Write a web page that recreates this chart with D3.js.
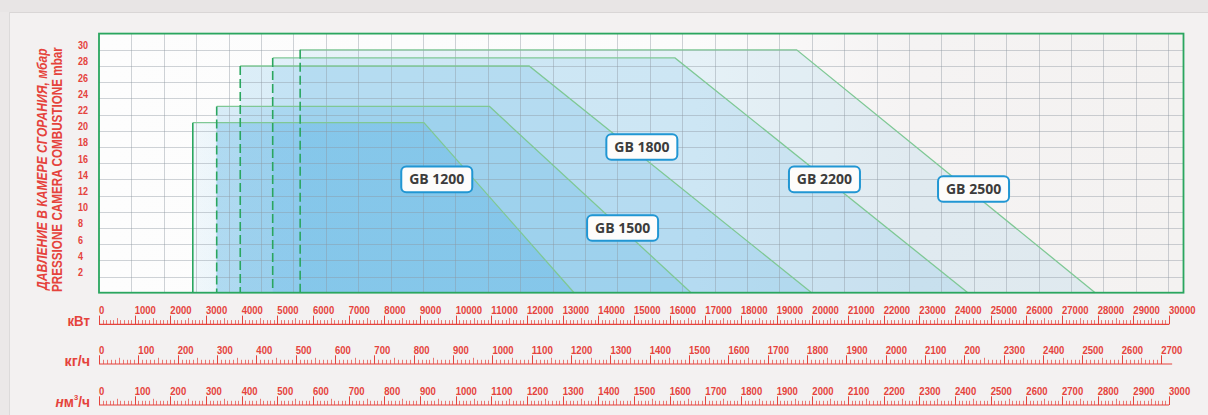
<!DOCTYPE html>
<html><head><meta charset="utf-8">
<script src="https://cdn.jsdelivr.net/npm/d3@7/dist/d3.min.js"></script>
<style>
html,body{margin:0;padding:0;background:#f3f1f1;}
svg{display:block;}
</style></head>
<body><svg id="c" width="1208" height="415"></svg>
<script>
// ---------- data ----------
const series        = ["GB 1200", "GB 1500", "GB 1800", "GB 2200", "GB 2500"];
const minPowerKW    = [2630, 3300, 3960, 4870, 5640];
const kneePowerKW   = [9110, 10950, 12060, 16150, 19560];
const maxPowerKW    = [13320, 16600, 19980, 24360, 27930];
const maxPressure   = [21, 23, 28, 29, 30];
const dashedLeft    = [false, true, true, true, true];
const labelPowerKW  = [9470, 14680, 15220, 20340, 24520];
const labelPressure = [14, 8, 18, 14, 12.8];
const fillAlpha     = [0.28, 0.2, 0.18, 0.15, 0.12];

const pressureTicks = [2, 4, 6, 8, 10, 12, 14, 16, 18, 20, 22, 24, 26, 28, 30];
const kwLabels  = ["0","1000","2000","3000","4000","5000","6000","7000","8000","9000","10000","11000","12000","13000","14000","15000","16000","17000","18000","19000","20000","21000","22000","23000","24000","25000","26000","27000","28000","29000","30000"];
const kgLabels  = ["0","100","200","300","400","500","600","700","800","900","1000","1100","1200","1300","1400","1500","1600","1700","1800","1900","2000","2100","200","2300","2400","2500","2600","2700"];
const nmLabels  = ["0","100","200","300","400","500","600","700","800","900","1000","1100","1200","1300","1400","1500","1600","1700","1800","1900","2000","2100","2200","2300","2400","2500","2600","2700","2800","2900","3000"];

const yTitleRu = "ДАВЛЕНИЕ В КАМЕРЕ СГОРАНИЯ, мбар";
const yTitleIt = "PRESSIONE CAMERA COMBUSTIONE  mbar";

// ---------- layout ----------
const RED = "#e5433c";
const GREEN = "#2aa65f";
const NARROW = "'Liberation Sans Narrow','Liberation Sans',Arial,sans-serif";
const plot = {left: 99, right: 1183.5, top: 33.6, bottom: 292.7};

const svg = d3.select("#c");
const defs = svg.append("defs");

// squeeze a text horizontally so that its advance equals target
function fitWidth(sel, target, tx, ty, rot) {
  const w = sel.node().getComputedTextLength();
  const sx = target / w;
  sel.attr("transform", `translate(${tx},${ty})` + (rot ? ` rotate(${rot})` : "") + ` scale(${sx},1)`);
}

// background decorations
svg.append("rect").attr("width",1208).attr("height",415).attr("fill","#f3f1f1");
svg.append("rect").attr("width",1208).attr("height",12).attr("fill","#e8e5e5");
svg.append("line").attr("x1",0).attr("x2",1208).attr("y1",12.5).attr("y2",12.5).attr("stroke","#d9d6d6");
svg.append("rect").attr("x",0).attr("y",12).attr("width",9).attr("height",403).attr("fill","#ebe8e8");
svg.append("line").attr("x1",9.5).attr("x2",9.5).attr("y1",12).attr("y2",415).attr("stroke","#dcdada");

const bg = defs.append("linearGradient").attr("id","plotbg").attr("x1","0").attr("x2","1").attr("y1","0").attr("y2","0");
bg.append("stop").attr("offset","0").attr("stop-color","#fdfdfd");
bg.append("stop").attr("offset","0.55").attr("stop-color","#fbfbfb");
bg.append("stop").attr("offset","0.75").attr("stop-color","#f5f3f3");
bg.append("stop").attr("offset","1").attr("stop-color","#f4f2f1");

// scales
const x = d3.scaleLinear().domain([0, 30000]).range([plot.left, 1169]);
const y = d3.scaleLinear().domain([0, 32]).range([plot.bottom, plot.top]);
const gridX = d3.scaleLinear().domain([0, 33.47]).range([plot.left, plot.right]);

svg.append("rect").attr("x",plot.left).attr("y",plot.top)
  .attr("width",plot.right-plot.left).attr("height",plot.bottom-plot.top).attr("fill","url(#plotbg)");

// series areas (largest behind)
const rows = series.map((s,i)=>({i:i,name:s,min:minPowerKW[i],knee:kneePowerKW[i],max:maxPowerKW[i],p:maxPressure[i],dash:dashedLeft[i],lx:labelPowerKW[i],ly:labelPressure[i],a:fillAlpha[i]}));
const order = rows.slice().reverse();

// first series: pale strip until the next series starts
const g0 = defs.append("linearGradient").attr("id","fill0").attr("gradientUnits","userSpaceOnUse")
  .attr("x1",x(minPowerKW[0])).attr("x2",x(minPowerKW[1])).attr("y1",0).attr("y2",0);
g0.append("stop").attr("offset","0").attr("stop-color","rgb(70,170,225)").attr("stop-opacity",0.07);
g0.append("stop").attr("offset","0.96").attr("stop-color","rgb(70,170,225)").attr("stop-opacity",0.09);
g0.append("stop").attr("offset","1").attr("stop-color","rgb(70,170,225)").attr("stop-opacity",fillAlpha[0]);

const area = svg.append("g");
area.selectAll("path.fill").data(order).join("path")
  .attr("d", d => d3.line()([[x(d.min),y(0)],[x(d.min),y(d.p)],[x(d.knee),y(d.p)],[x(d.max),y(0)]]) + "Z")
  .attr("fill", d => d.i===0 ? "url(#fill0)" : "rgb(70,170,225)")
  .attr("fill-opacity", d => d.i===0 ? 1 : d.a);

// grid
const grid = svg.append("g").attr("stroke","rgb(140,150,160)").attr("stroke-opacity",0.42).attr("stroke-width",1);
grid.selectAll("line.h").data(pressureTicks).join("line")
  .attr("x1",plot.left).attr("x2",plot.right).attr("y1",d=>Math.round(y(d))+0.5).attr("y2",d=>Math.round(y(d))+0.5);
grid.selectAll("line.v").data(d3.range(1,34)).join("line")
  .attr("y1",plot.top).attr("y2",plot.bottom).attr("x1",d=>Math.round(gridX(d))+0.5).attr("x2",d=>Math.round(gridX(d))+0.5);

// series outlines
const outl = svg.append("g").attr("fill","none");
outl.selectAll("path.top").data(order).join("path")
  .attr("d", d => d3.line()([[x(d.min),y(d.p)],[x(d.knee),y(d.p)],[x(d.max),y(0)]]))
  .attr("stroke","#7fc895").attr("stroke-width",1.3);
outl.selectAll("line.left").data(order).join("line")
  .attr("x1",d=>x(d.min)).attr("x2",d=>x(d.min)).attr("y1",d=>y(d.p)).attr("y2",y(0))
  .attr("stroke",GREEN).attr("stroke-width",1.6)
  .attr("stroke-dasharray",d=>d.dash?"9,4":null);

// frame
svg.append("rect").attr("x",plot.left).attr("y",plot.top)
  .attr("width",plot.right-plot.left).attr("height",plot.bottom-plot.top)
  .attr("fill","none").attr("stroke",GREEN).attr("stroke-width",1.8);

// y tick labels
svg.append("g").selectAll("text").data(pressureTicks).join("text")
  .attr("x",78).attr("y",d=>y(d)-0.5)
  .attr("font-family",NARROW).attr("font-weight","bold").attr("font-size",10)
  .attr("textLength",d=>String(d).length*5).attr("lengthAdjust","spacingAndGlyphs")
  .attr("fill",RED).text(d=>d);

// y titles (condensed by horizontal scaling)
const t1 = svg.append("text")
  .attr("font-family",NARROW).attr("font-weight","bold").attr("font-style","italic").attr("font-size",15.5)
  .attr("fill",RED).text(yTitleRu);
fitWidth(t1, 242, 46.5, 290, -90);
const t2 = svg.append("text")
  .attr("font-family",NARROW).attr("font-weight","bold").attr("font-size",15.5)
  .attr("fill",RED).text(yTitleIt);
fitWidth(t2, 245, 61.8, 292, -90);

// series labels
const lab = svg.append("g").selectAll("g").data(rows).join("g")
  .attr("transform",d=>`translate(${x(d.lx)},${y(d.ly)})`);
lab.append("rect").attr("x",-35.5).attr("y",-12.8).attr("width",71).attr("height",25.6).attr("rx",5)
  .attr("fill","#fdfcfb").attr("stroke","#2196d3").attr("stroke-width",2);
lab.append("text").attr("text-anchor","middle").attr("y",5)
  .attr("font-family","'Open Sans',sans-serif").attr("font-weight","bold").attr("font-size",14)
  .attr("fill","#3c3c3c").text(d=>d.name);

// rulers
function ruler(labels, step, minorStep, lineY, endX, extraEnd) {
  const max = step*(labels.length-1);
  const s = d3.scaleLinear().domain([0,max]).range([plot.left,endX]);
  const g = svg.append("g");
  g.append("line").attr("x1",plot.left).attr("x2",endX+extraEnd).attr("y1",lineY).attr("y2",lineY)
    .attr("stroke",RED).attr("stroke-width",1.2);
  const minors = d3.range(0, max+minorStep/2, minorStep);
  g.selectAll("line.t").data(minors).join("line")
    .attr("x1",d=>Math.round(s(d))+0.5).attr("x2",d=>Math.round(s(d))+0.5)
    .attr("y1",lineY).attr("y2",(d,i)=> i%10===0 ? lineY-8.7 : (i%5===0 ? lineY-6.2 : lineY-4.2))
    .attr("stroke",RED).attr("stroke-width",1)
    .attr("stroke-opacity",(d,i)=> i%10===0 ? 1 : 0.7);
  g.selectAll("text").data(labels).join("text")
    .attr("x",(d,i)=>s(i*step)).attr("y",lineY-10)
    .attr("font-family",NARROW).attr("font-weight","bold").attr("font-size",10.5)
    .attr("textLength",d=>d.length*5.3).attr("lengthAdjust","spacingAndGlyphs")
    .attr("fill",RED).text(d=>d);
  return g;
}
ruler(kwLabels, 1000, 100, 324.3, x(30000), 0);
ruler(kgLabels, 100, 10, 364, plot.left + (x(30000)-plot.left)*27/27.2, 11);
ruler(nmLabels, 100, 10, 405, x(30000), 0);

// unit labels
const u1 = svg.append("text").attr("font-family",NARROW).attr("font-weight","bold").attr("font-size",14.5).attr("fill",RED).text("кВт");
fitWidth(u1, 22.5, 67.5, 326);
const u2 = svg.append("text").attr("font-family",NARROW).attr("font-weight","bold").attr("font-size",14.5).attr("fill",RED).text("кг/ч");
fitWidth(u2, 25.5, 64.5, 366);
const nm = svg.append("text").attr("font-family",NARROW).attr("font-weight","bold").attr("font-size",14.5).attr("fill",RED);
nm.append("tspan").attr("font-style","italic").text("н");
nm.append("tspan").text("м");
nm.append("tspan").attr("font-size",8).attr("dy",-6.5).text("3");
nm.append("tspan").attr("dy",6.5).text("/ч");
fitWidth(nm, 34.5, 55.5, 406.5);
</script></body></html>
